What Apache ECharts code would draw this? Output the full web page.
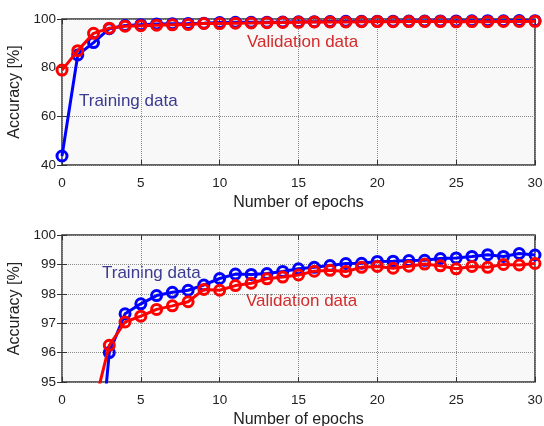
<!DOCTYPE html>
<html>
<head>
<meta charset="utf-8">
<script src="https://cdn.jsdelivr.net/npm/echarts@6/dist/echarts.min.js"></script>
<style>html,body{margin:0;padding:0;background:#fff;}#c{width:544px;height:426px;}</style>
</head>
<body>
<div id="c"></div>
<script>
const epochs = [0,1,2,3,4,5,6,7,8,9,10,11,12,13,14,15,16,17,18,19,20,21,22,23,24,25,26,27,28,29,30];
const training = [43.7,85.2,90.3,96.0,97.32,97.66,97.94,98.05,98.12,98.3,98.52,98.67,98.66,98.69,98.76,98.85,98.9,98.96,99.03,99.04,99.1,99.11,99.13,99.14,99.2,99.22,99.27,99.33,99.27,99.37,99.32];
const validation = [79.0,87.0,94.1,96.25,97.04,97.24,97.47,97.59,97.73,98.15,98.12,98.28,98.36,98.51,98.57,98.64,98.77,98.8,98.76,98.9,98.93,98.87,98.94,99.01,98.95,98.85,98.93,98.9,99.0,98.98,99.03];
const xTicks = {min: 0, max: 30, interval: 5};
const yTopTicks = {min: 40, max: 100, interval: 20};
const yBottomTicks = {min: 95, max: 100, interval: 1};
const xName = 'Number of epochs';
const yName = 'Accuracy [%]';

const pairs = arr => epochs.map((e, i) => [e, arr[i]]);
const FONT = '"Liberation Sans", Arial, sans-serif';
const BLUE = '#0000ff', RED = '#ff0000';

function xAxisFor(gi, withLabels) {
  return {
    type: 'value', gridIndex: gi, min: xTicks.min, max: xTicks.max, interval: xTicks.interval,
    name: withLabels ? xName : '', nameLocation: 'middle', nameGap: 30,
    nameTextStyle: {fontFamily: FONT, fontSize: 16, color: '#222'},
    position: withLabels ? 'bottom' : 'top',
    axisLine: {show: false},
    axisTick: {show: true, inside: true, length: 5, lineStyle: {color: '#333', width: 1}},
    axisLabel: {show: withLabels, fontFamily: FONT, fontSize: 13.5, color: '#222', margin: 11},
    splitLine: {show: withLabels, lineStyle: {type: 'dotted', color: '#8a8a8a', width: 1}}
  };
}
function yAxisFor(gi, t, withLabels) {
  return {
    type: 'value', gridIndex: gi, min: t.min, max: t.max, interval: t.interval,
    name: withLabels ? yName : '', nameLocation: 'middle', nameGap: 34,
    nameTextStyle: {fontFamily: FONT, fontSize: 16, color: '#222'},
    position: withLabels ? 'left' : 'right',
    axisLine: {show: false},
    axisTick: {show: true, inside: true, length: 5, lineStyle: {color: '#333', width: 1}},
    axisLabel: {show: withLabels, fontFamily: FONT, fontSize: 13.5, color: '#222', margin: 6},
    splitLine: {show: withLabels, lineStyle: {type: 'dotted', color: '#8a8a8a', width: 1}}
  };
}
function seriesFor(gi, data, color, z) {
  return {
    type: 'line', xAxisIndex: gi * 2, yAxisIndex: gi * 2, data: pairs(data),
    symbol: 'circle', symbolSize: 10, clip: true, z: z,
    lineStyle: {color: color, width: 3},
    itemStyle: {color: 'rgba(0,0,0,0)', borderColor: color, borderWidth: 3},
    animation: false
  };
}
const gridCommon = {left: 62, right: 9, show: true, backgroundColor: '#f8f8f8', borderColor: '#333', borderWidth: 1.5, containLabel: false, outerBoundsMode: 'none'};
const chart = echarts.init(document.getElementById('c'), null, {renderer: 'canvas'});
chart.setOption({
  animation: false,
  backgroundColor: '#fff',
  grid: [
    Object.assign({top: 19, height: 146}, gridCommon),
    Object.assign({top: 235, height: 147}, gridCommon)
  ],
  xAxis: [xAxisFor(0, true), xAxisFor(0, false), xAxisFor(1, true), xAxisFor(1, false)],
  yAxis: [yAxisFor(0, yTopTicks, true), yAxisFor(0, yTopTicks, false), yAxisFor(1, yBottomTicks, true), yAxisFor(1, yBottomTicks, false)],
  series: [
    seriesFor(0, training, BLUE, 2),
    seriesFor(0, validation, RED, 3),
    seriesFor(1, training, BLUE, 2),
    seriesFor(1, validation, RED, 3)
  ],
  graphic: [
    {type: 'text', left: 79, top: 93, style: {text: 'Training data', fontFamily: FONT, fontSize: 17, fill: '#3a3a90'}},
    {type: 'text', left: 247, top: 34, style: {text: 'Validation data', fontFamily: FONT, fontSize: 17, fill: '#d42a2a'}},
    {type: 'text', left: 102, top: 265, style: {text: 'Training data', fontFamily: FONT, fontSize: 17, fill: '#3a3a90'}},
    {type: 'text', left: 246, top: 293, style: {text: 'Validation data', fontFamily: FONT, fontSize: 17, fill: '#d42a2a'}}
  ]
});
</script>
</body>
</html>
